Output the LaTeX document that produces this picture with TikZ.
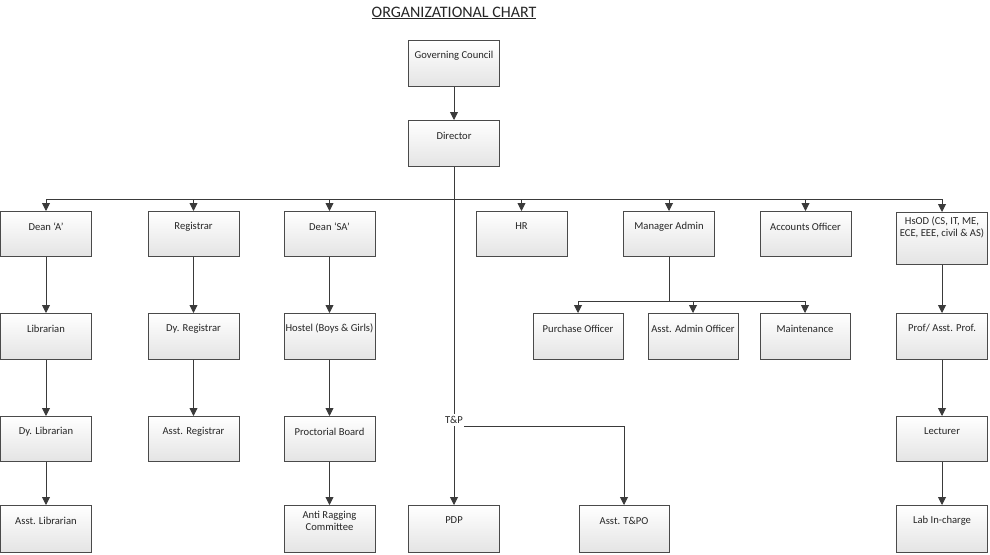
\documentclass[tikz,border=0pt]{standalone}
\usepackage{fontspec}
\setmainfont{Carlito}
\usetikzlibrary{arrows.meta}
\definecolor{linec}{HTML}{3A3A3A}
\definecolor{boxc}{HTML}{4A4A4A}
\definecolor{shadec}{HTML}{E4E4E4}
\definecolor{txtc}{HTML}{262626}
\begin{document}
\begin{tikzpicture}[x=1pt,y=-1pt,
  box/.style={draw=boxc, line width=0.9pt, top color=white, bottom color=shadec,
    minimum width=91pt, minimum height=46pt, inner sep=0pt, anchor=north},
  lbl/.style={font=\fontsize{10.6}{12.2}\selectfont, text=txtc, align=center,
    anchor=center, yshift=-15.5pt, inner sep=0pt},
  conn/.style={draw=linec, line width=0.9pt},
  arr/.style={conn, -{Triangle[length=8pt,width=8pt]}}]
\useasboundingbox (0,0) rectangle (990,554);

% title
\node[font=\fontsize{16}{19}\selectfont, text=txtc, anchor=base, inner sep=0pt] (title) at (454,17) {\underline{ORGANIZATIONAL CHART}};

% top
\node[box, label={[lbl]north:Governing Council}] (gc) at (454,40) {};
\node[box, label={[lbl]north:Director}] (dir) at (454,120) {};

% row 1
\node[box, minimum height=45pt, label={[lbl]north:Dean ‘A’}] (deanA) at (46,211) {};
\node[box, minimum height=45pt, label={[lbl]north:Registrar}] (reg) at (193.5,211) {};
\node[box, minimum height=45pt, label={[lbl]north:Dean ‘SA’}] (deanSA) at (329.5,211) {};
\node[box, minimum height=45pt, label={[lbl]north:HR}] (hr) at (521.5,211) {};
\node[box, minimum height=45pt, label={[lbl]north:Manager Admin}] (ma) at (669,211) {};
\node[box, minimum height=45pt, label={[lbl]north:Accounts Officer}] (ao) at (805.5,211) {};
\node[box, minimum height=52pt, label={[lbl]north:HsOD (CS, IT, ME,\\ECE, EEE, civil \& AS)}] (hsod) at (942,212) {};

% row 2
\node[box, label={[lbl]north:Librarian}] (lib) at (46,313) {};
\node[box, label={[lbl]north:Dy. Registrar}] (dyreg) at (193.5,313) {};
\node[box, label={[lbl]north:Hostel (Boys \& Girls)}] (hostel) at (329.5,313) {};
\node[box, minimum width=90pt, label={[lbl]north:Purchase Officer}] (po) at (578,313) {};
\node[box, minimum width=90pt, label={[lbl]north:Asst. Admin Officer}] (aao) at (693,313) {};
\node[box, minimum width=90pt, label={[lbl]north:Maintenance}] (mt) at (805,313) {};
\node[box, label={[lbl]north:Prof/ Asst. Prof.}] (prof) at (942,313) {};

% row 3
\node[box, minimum height=45pt, label={[lbl]north:Dy. Librarian}] (dylib) at (46,416) {};
\node[box, minimum height=45pt, label={[lbl]north:Asst. Registrar}] (asreg) at (193.5,416) {};
\node[box, minimum height=45pt, label={[lbl]north:Proctorial Board}] (proct) at (329.5,416) {};
\node[box, minimum height=45pt, label={[lbl]north:Lecturer}] (lect) at (942,416) {};

% row 4
\node[box, minimum height=47pt, label={[lbl]north:Asst. Librarian}] (aslib) at (46,505) {};
\node[box, minimum height=47pt, label={[lbl]north:Anti Ragging\\Committee}] (anti) at (329.5,505) {};
\node[box, minimum height=47pt, label={[lbl]north:PDP}] (pdp) at (454,505) {};
\node[box, minimum width=90pt, minimum height=47pt, label={[lbl]north:Asst. T\&PO}] (atpo) at (624,505) {};
\node[box, minimum height=47pt, label={[lbl]north:Lab In-charge}] (lab) at (942,505) {};

% T&P label
\node[font=\fontsize{10.6}{12.2}\selectfont, text=txtc, inner sep=2.5pt] (tp) at (454,420) {T\&P};

% connectors
\coordinate (bus) at (454,199);
\coordinate (mabus) at (669,301);
\coordinate (tpr) at (464,426);

\draw[arr] (gc.south) -- (dir.north);
\draw[conn] (dir.south) -- (tp.north);
\draw[conn] (deanA.north |- bus) -- (hsod.north |- bus);
\foreach \n in {deanA,reg,deanSA,hr,ma,ao,hsod}
  \draw[arr] (\n.north |- bus) -- (\n.north);

\draw[conn] (ma.south) -- (mabus);
\draw[conn] (po.north |- mabus) -- (mt.north |- mabus);
\foreach \n in {po,aao,mt}
  \draw[arr] (\n.north |- mabus) -- (\n.north);

\draw[arr] (deanA.south) -- (lib.north);
\draw[arr] (lib.south) -- (dylib.north);
\draw[arr] (dylib.south) -- (aslib.north);
\draw[arr] (reg.south) -- (dyreg.north);
\draw[arr] (dyreg.south) -- (asreg.north);
\draw[arr] (deanSA.south) -- (hostel.north);
\draw[arr] (hostel.south) -- (proct.north);
\draw[arr] (proct.south) -- (anti.north);
\draw[arr] (hsod.south) -- (prof.north);
\draw[arr] (prof.south) -- (lect.north);
\draw[arr] (lect.south) -- (lab.north);

\draw[arr] (tp.south) -- (pdp.north);
\draw[arr] (tpr) -| (atpo.north);
\end{tikzpicture}
\end{document}
